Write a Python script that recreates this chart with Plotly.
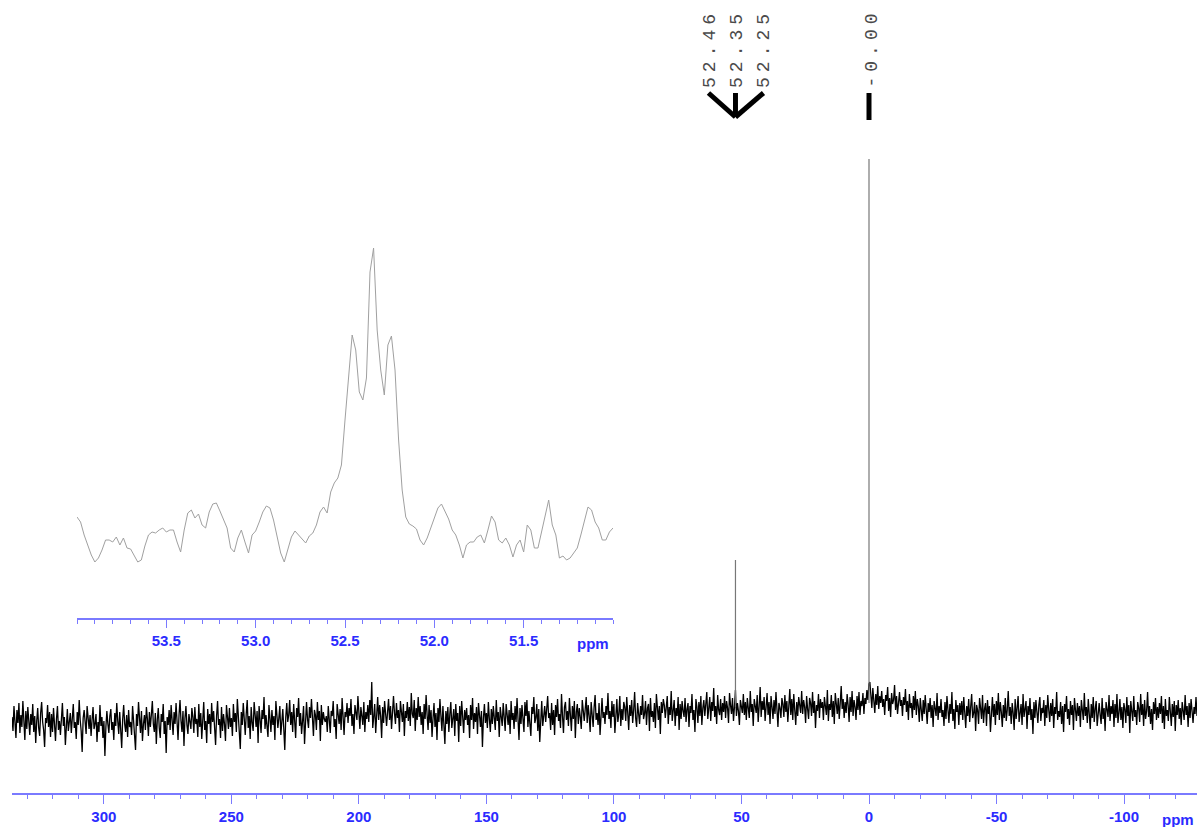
import numpy as np
import plotly.graph_objects as go

# ---------------- data ----------------
# main 13C spectrum (baseline noise), uniformly sampled from ppm_start to ppm_end
ppm_start, ppm_end = 336.0, -128.6
main_intensity = [
    -5,-19,6,-14,-26,2,-11,9,-21,-3,-15,11,-8,-28,1,-17,5,-12,-23,-2,
    -13,8,-20,-4,-31,-9,4,-16,-24,-1,10,-10,-18,-35,-6,-11,7,-15,0,-25,
    -2,-20,4,-12,-29,-7,6,-18,-9,-23,1,9,-14,-5,-33,-13,3,-19,-8,-1,
    -21,-4,8,-16,-10,-27,0,-13,12,-8,-19,-40,-6,2,-15,-22,6,-11,-17,-3,
    -24,-8,5,-17,-12,-2,-30,-10,-20,7,-14,-5,-26,-9,-44,-15,1,-12,-21,-4,
    3,-18,-10,-28,-1,-14,9,-9,-22,0,-16,-36,-7,7,-12,-20,-3,-25,2,-15,
    -10,-23,6,-6,-17,-38,-2,-14,10,-9,-21,1,-29,-12,-3,-18,5,-7,-24,0,
    -15,-3,11,-12,-20,-1,-32,-8,4,-16,-26,-2,-10,8,-22,-9,-41,-5,-13,2,
    -18,7,-7,-23,0,-12,9,-15,-28,-3,12,-9,-20,1,-34,-6,6,-13,-22,-2,
    -10,-17,4,-5,-21,5,-12,-7,-25,8,-15,-1,-27,-6,10,-18,-9,-31,3,-12,
    -2,-22,9,-10,1,-16,-33,-4,11,-13,-7,-26,5,-19,-2,-12,-29,7,-9,-17,
    4,-15,-6,-24,8,-10,-1,-20,13,-7,-18,-37,0,-13,9,-8,-23,-2,12,-16,
    -4,-27,5,-11,-19,10,-5,-15,1,-31,6,-9,-21,2,-7,15,-17,-3,-12,-25,
    7,-8,-20,2,-13,-4,-28,11,-1,-16,-6,6,-23,-10,3,-17,-38,-5,9,-10,
    -3,12,-13,0,-20,8,-8,-26,4,-5,14,-14,-1,-22,-9,6,-32,-4,10,-7,
    -16,5,-6,13,-11,-24,2,-3,-18,10,-8,1,-29,7,-13,0,-7,-10,-4,-20,
    6,-9,-21,1,-4,11,-15,-7,-27,8,-2,-12,3,-18,14,-8,-23,0,-5,9,
    -11,4,-4,13,-14,-2,-22,7,1,-8,16,-6,-17,5,-3,-13,10,-20,0,-7,
    7,-10,12,-3,30,-16,-5,8,-21,-1,15,-8,7,-4,-26,5,-11,11,-2,-14,
    0,13,-8,6,-17,-4,16,-1,-12,9,-6,2,-20,11,-3,-10,8,-24,1,-6,
    10,-9,5,-14,19,-2,-6,12,-19,4,-8,15,-5,6,-13,0,-22,8,-7,17,
    -3,-18,7,-11,2,-25,-6,9,-15,-1,-28,4,-10,13,-4,-19,6,-9,-32,1,
    -12,5,-20,-2,10,-16,-7,3,-24,8,-9,-1,-30,6,-14,11,-5,-21,2,-8,
    4,-13,-3,-26,7,-8,14,-17,-1,-10,5,-22,9,-4,-15,1,-35,-6,8,-11,
    -1,-16,10,-7,-20,3,-12,6,-4,-18,12,-9,0,-25,5,-6,-14,9,-2,-19,
    8,-5,-13,2,-22,11,-8,-1,-17,6,-10,14,-3,-28,4,-12,7,-6,-20,10,
    -4,12,-15,1,-9,-24,5,-2,15,-11,-6,8,-19,3,-30,-7,11,-14,0,6,
    -10,4,16,-6,-1,-18,9,-13,2,-23,7,-5,13,-9,-2,-16,18,-4,-21,5,
    10,-8,1,-14,14,-3,-19,6,-7,11,-26,0,8,-12,4,-5,-17,12,-1,-9,
    3,15,-11,7,-4,-20,10,-2,-15,5,17,-8,-1,-13,9,-23,2,14,-6,0,
    -12,6,-3,19,-7,1,-16,11,-5,8,-21,4,13,-10,-2,16,-14,3,-8,10,
    5,-9,15,-1,-18,7,-4,12,-11,2,20,-6,-15,9,0,-12,6,-3,17,-7,
    -2,11,-13,4,8,-19,14,-5,1,-10,9,-16,18,3,-8,6,-22,10,-1,13,
    7,-6,2,16,-12,5,-3,21,-9,0,12,-14,4,-4,15,-18,8,-7,11,1,
    -5,14,-10,3,9,-15,6,-1,18,-8,2,-20,13,5,-11,10,-4,16,-13,4,
    12,-4,8,20,-7,3,15,-9,10,1,24,-5,6,-12,17,2,-3,13,-8,9,
    0,16,-6,11,4,-11,19,7,-2,14,-9,5,22,-4,9,1,-13,12,6,-1,
    18,-3,10,-8,14,3,-6,21,0,8,-14,13,4,-1,17,-10,6,25,-5,11,
    2,15,-9,7,19,-3,10,-12,16,5,-7,12,-2,20,1,-15,9,4,-6,14,
    8,-5,17,0,11,-10,6,23,-3,13,-8,18,2,-13,10,-4,15,7,-1,21,
    -2,12,5,-11,16,3,-7,14,9,-4,20,-1,11,-16,7,1,18,-6,13,4,
    10,-8,15,6,-3,22,-9,8,2,17,-5,11,-12,19,4,-2,14,-7,9,26,
    3,13,-6,10,-1,18,7,-10,15,0,21,-4,12,5,-8,16,2,20,-3,11,
    6,19,-2,14,8,22,12,28,30,15,4,24,10,-1,18,7,26,3,16,9,
    21,5,13,-3,17,11,25,1,14,-5,19,8,12,27,2,16,-2,10,20,6,
    12,-4,15,7,23,0,11,-8,18,4,9,-6,16,2,21,-3,13,6,-10,14,
    5,-9,12,-2,17,3,-12,9,0,14,-6,7,-15,11,1,-4,19,-8,6,-1,
    13,-5,2,-14,10,-7,16,4,-11,8,-2,20,-9,3,-17,12,0,7,-13,9,
    -3,11,-8,15,1,-16,6,-4,13,-10,5,18,-6,-1,10,-19,7,2,-12,14,
    4,-7,17,-11,3,9,-14,12,-2,6,-20,1,15,-5,8,-13,11,-3,19,-8,
    10,0,-15,7,-6,14,-9,2,21,-4,5,-12,9,-1,-18,13,-7,4,16,-10,
    -2,8,-13,18,-5,1,11,-17,6,-3,14,-8,3,-22,10,-6,12,0,-11,7,
    15,-9,4,-1,12,-14,7,-6,17,2,-10,9,-4,13,-16,5,-2,20,-8,1,
    -5,10,-12,6,-20,8,0,16,-7,3,-13,11,-3,7,-18,14,-1,-9,9,-4,
    6,-15,12,2,-8,19,-4,5,-11,13,-1,-17,8,-6,15,-10,3,11,-14,0,
    9,-3,-12,14,-7,4,-19,10,1,-5,17,-9,6,-2,12,-15,8,-6,18,-11,
    -1,13,-8,5,-16,9,3,-11,15,-4,7,-21,11,0,-9,16,-5,2,-13,10,
    4,-10,18,-3,8,-14,12,-7,1,20,-5,6,-12,3,-18,10,-2,14,-8,5,
    -6,9,-2,16,-11,6,-17,13,-4,2,-9,15,-1,-14,8,-5,11,-19,7,-3,
    12,-7,4,-13,10,1,-8,17,-3,6,-15,9,-6,13,0,-11,5,-2,15,-4,
]

# peaks (ppm, base, top) in the main spectrum
peak_ppm = [52.35, 0.00]
peak_base = [5, 9]
peak_top = [152, 553]

# peak picking labels
label_text = ["52.46", "52.35", "52.25", "-0.00"]

# inset (expansion 54.0 - 51.0 ppm)
inset_start, inset_end = 54.0, 51.0
inset_intensity = [
    101,96,83,73,63,56,60,68,78,78,76,81,73,80,70,69,63,56,58,72,
    83,86,85,88,90,86,88,88,76,66,88,105,108,100,104,93,90,106,114,115,
    107,99,90,70,66,80,88,76,65,83,87,96,106,112,110,98,80,65,56,68,
    81,87,83,78,75,82,85,93,106,111,105,126,135,140,153,198,240,283,268,226,
    218,240,346,370,288,248,223,273,282,248,178,128,101,94,92,89,78,73,80,90,
    100,110,114,106,99,88,83,73,60,73,76,76,81,83,75,88,102,96,78,75,
    80,73,61,73,78,66,93,88,70,70,85,103,118,93,83,60,62,58,60,65,
    70,83,98,111,108,96,90,78,78,86,90,
]

main_ticks = [300, 250, 200, 150, 100, 50, 0, -50, -100]
main_ticktext = ["300", "250", "200", "150", "100", "50", "0", "-50", "-100"]
inset_ticks = [53.5, 53.0, 52.5, 52.0, 51.5]

# ---------------- figure ----------------
W, H = 1200, 827
ppm = np.linspace(ppm_start, ppm_end, len(main_intensity))
inset_ppm = np.linspace(inset_start, inset_end, len(inset_intensity))

AX_LINE = "#7a7aff"
AX_TEXT = "#2b2bff"
tickfont = dict(family="Liberation Sans, Arial, sans-serif", size=15, color=AX_TEXT, weight="bold")

fig = go.Figure()
fig.add_trace(go.Scatter(x=ppm, y=main_intensity, mode="lines",
                         line=dict(color="black", width=1.3), xaxis="x", yaxis="y",
                         hoverinfo="skip", showlegend=False))
for p, b, t in zip(peak_ppm, peak_base, peak_top):
    fig.add_trace(go.Scatter(x=[p, p], y=[b, t], mode="lines",
                             line=dict(color="#777777", width=1.2), xaxis="x", yaxis="y",
                             hoverinfo="skip", showlegend=False))
fig.add_trace(go.Scatter(x=inset_ppm, y=inset_intensity, mode="lines",
                         line=dict(color="#a0a0a0", width=1), xaxis="x2", yaxis="y2",
                         hoverinfo="skip", showlegend=False))

def py(pix):
    return (H - pix) / H

fig.update_layout(
    width=W, height=H,
    margin=dict(l=0, r=0, t=0, b=0),
    paper_bgcolor="white", plot_bgcolor="rgba(0,0,0,0)",
    showlegend=False,
    xaxis=dict(domain=[12 / W, 1197 / W], range=[ppm_start, ppm_end], anchor="y",
               showgrid=False, zeroline=False, showline=True, linecolor=AX_LINE, linewidth=1.5,
               ticks="outside", ticklen=9, tickwidth=1.2, tickcolor=AX_LINE,
               tickmode="array", tickvals=main_ticks, ticktext=main_ticktext, tickfont=tickfont,
               minor=dict(tickmode="linear", tick0=0, dtick=10, ticks="outside", ticklen=4,
                          tickcolor=AX_LINE, tickwidth=1.2, showgrid=False)),
    yaxis=dict(domain=[py(793), 1], range=[-81, 712], visible=False, anchor="x"),
    xaxis2=dict(domain=[77 / W, 613 / W], range=[inset_start, inset_end], anchor="y2",
                showgrid=False, zeroline=False, showline=True, linecolor=AX_LINE, linewidth=1.5,
                ticks="outside", ticklen=8, tickwidth=1.2, tickcolor=AX_LINE,
                tickmode="array", tickvals=inset_ticks,
                ticktext=[f"{v:.1f}" for v in inset_ticks], tickfont=tickfont,
                minor=dict(tickmode="linear", tick0=0, dtick=0.1, ticks="outside", ticklen=4,
                           tickcolor=AX_LINE, tickwidth=1.2, showgrid=False)),
    yaxis2=dict(domain=[py(618), py(218)], range=[0, 400], visible=False, anchor="x2"),
)

# axis unit labels
fig.add_annotation(x=1178 / W, y=py(819), xref="paper", yref="paper", text="ppm",
                   showarrow=False, font=tickfont, xanchor="center", yanchor="middle")
fig.add_annotation(x=593 / W, y=py(643), xref="paper", yref="paper", text="ppm",
                   showarrow=False, font=tickfont, xanchor="center", yanchor="middle")

# peak labels (rotated) and connector marks
shifts = [-25, 2, 29, 3]
anchor_ppm = [52.35, 52.35, 52.35, 0.00]
for lab, a, s in zip(label_text, anchor_ppm, shifts):
    fig.add_annotation(x=a, xref="x", xshift=s, y=py(90), yref="paper",
                       text=f'<span style="letter-spacing:5px">{lab}</span>',
                       textangle=-90, showarrow=False,
                       xanchor="center", yanchor="bottom",
                       font=dict(family="Liberation Mono, DejaVu Sans Mono, monospace",
                                 size=18, color="#4a4a4a"))

ytop, ybot = py(93), py(117)
for x0 in [-27, 28, 0]:
    fig.add_shape(type="line", xref="x", xsizemode="pixel", xanchor=peak_ppm[0],
                  x0=x0, x1=0, yref="paper", y0=ytop, y1=ybot,
                  line=dict(color="black", width=5))
fig.add_shape(type="line", xref="x", xsizemode="pixel", xanchor=peak_ppm[1],
              x0=0, x1=0, yref="paper", y0=ytop, y1=py(120),
              line=dict(color="black", width=5))

fig.write_html("out.html")
